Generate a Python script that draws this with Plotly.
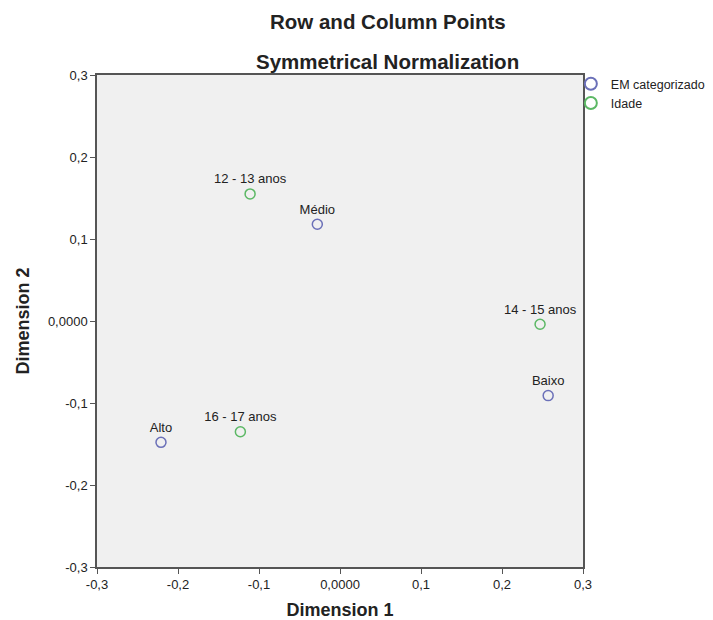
import plotly.graph_objects as go

row_labels = ["Médio", "Baixo", "Alto"]
row_x = [-0.028, 0.257, -0.221]
row_y = [0.118, -0.091, -0.148]

col_labels = ["12 - 13 anos", "14 - 15 anos", "16 - 17 anos"]
col_x = [-0.111, 0.247, -0.123]
col_y = [0.155, -0.004, -0.135]

tick_vals = [-0.3, -0.2, -0.1, 0.0, 0.1, 0.2, 0.3]
tick_text = ["-0,3", "-0,2", "-0,1", "0,0000", "0,1", "0,2", "0,3"]

font = "Liberation Sans, Arial, sans-serif"

fig = go.Figure()
fig.add_trace(go.Scatter(
    x=row_x, y=row_y, mode="markers+text", name="EM categorizado",
    text=row_labels, textposition="top center",
    textfont=dict(size=13, color="#222"),
    marker=dict(symbol="circle-open", size=10, color="#6b70b8", line=dict(width=1.5)),
))
fig.add_trace(go.Scatter(
    x=col_x, y=col_y, mode="markers+text", name="Idade",
    text=col_labels, textposition="top center",
    textfont=dict(size=13, color="#222"),
    marker=dict(symbol="circle-open", size=10, color="#5cb865", line=dict(width=1.5)),
))

axis_common = dict(
    range=[-0.3, 0.3], tickvals=tick_vals, ticktext=tick_text,
    showgrid=False, zeroline=False, showline=True, mirror=True,
    linecolor="#555", linewidth=1.5, ticks="outside", ticklen=5,
    tickcolor="#555", tickfont=dict(size=13, color="#222", family=font),
    automargin=False,
)

fig.update_layout(
    width=705, height=612,
    margin=dict(l=89, r=130, t=67, b=53, autoexpand=False),
    plot_bgcolor="#f0f0f0", paper_bgcolor="white",
    font=dict(family=font, color="#222"),
    xaxis=dict(axis_common, title=dict(text="<b>Dimension 1</b>", font=dict(size=18), standoff=18)),
    yaxis=dict(axis_common, title=dict(text="<b>Dimension 2</b>", font=dict(size=18), standoff=14)),
    legend=dict(x=0.975, y=1.012, xanchor="left", yanchor="top",
                font=dict(size=12.5), bgcolor="rgba(0,0,0,0)",
                itemsizing="constant", itemwidth=30, tracegroupgap=0),
    annotations=[
        dict(text="<b>Row and Column Points</b>", xref="paper", yref="paper",
             x=0.598, y=1, yshift=54, yanchor="middle", showarrow=False, font=dict(size=20.5)),
        dict(text="<b>Symmetrical Normalization</b>", xref="paper", yref="paper",
             x=0.598, y=1, yshift=14, yanchor="middle", showarrow=False, font=dict(size=20.5)),
    ],
)

fig.write_html("out.html")
